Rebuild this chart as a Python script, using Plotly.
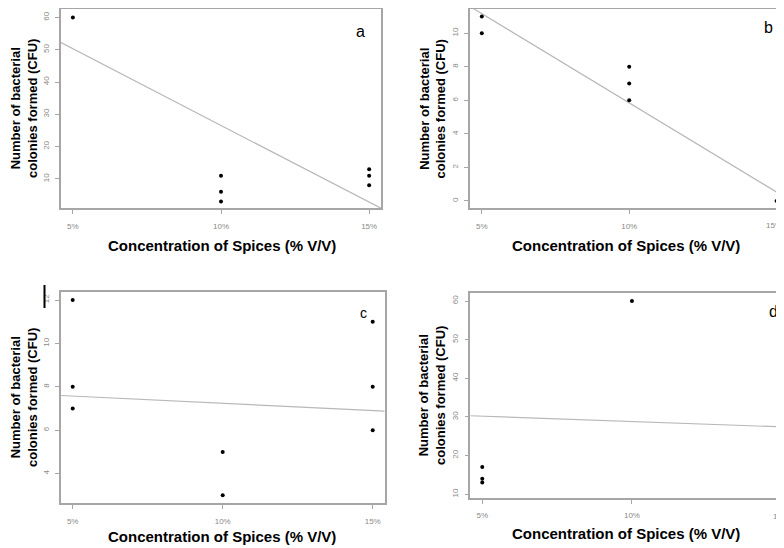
import plotly.graph_objects as go

# The page body has an 8px margin, so the figure is drawn 8px smaller and
# every reference pixel position is shifted by OFF.
OFF = 8
W, H = 784 - OFF, 548 - OFF

conc_values = [5, 10, 15]
conc_labels = ["5%", "10%", "15%"]

a_x = [5, 10, 10, 10, 15, 15, 15]
a_y = [60, 11, 6, 3, 13, 11, 8]
b_x = [5, 5, 10, 10, 10, 15]
b_y = [11, 10, 8, 7, 6, 0]
c_x = [5, 5, 5, 10, 10, 15, 15, 15]
c_y = [12, 8, 7, 5, 3, 11, 8, 6]
d_x = [5, 5, 5, 10, 15, 15, 15]
d_y = [17, 14, 13, 60, 15, 12, 9]

fit_x = [4.6, 15.4]
a_fit = [52.2, 0.9]
b_fit = [11.6, 0.1]
c_fit = [7.6, 6.88]
d_fit = [30.3, 27.3]

a_yticks = [10, 20, 30, 40, 50, 60]
b_yticks = [0, 2, 4, 6, 8, 10]
c_yticks = [4, 6, 8, 10, 12]
d_yticks = [10, 20, 30, 40, 50, 60]

panel_letters = ["a", "b", "c", "d"]
x_title = "Concentration of Spices (% V/V)"
y_title = "Number of bacterial<br>colonies formed (CFU)"


def px(x):
    return (x - OFF) / W


def py(y):
    return 1 - (y - OFF) / H


# pixel boxes (reference coords): (left, right, top, bottom)
panels = [
    dict(x=a_x, y=a_y, fit=a_fit, yt=a_yticks, box=(61, 381, 9, 208.3), xr=[4.6, 15.4], yr=[0.9, 62.6], mirror=True),
    dict(x=b_x, y=b_y, fit=b_fit, yt=b_yticks, box=(470, 784, 9, 208.3), xr=[4.6, 15.25], yr=[-0.44, 11.45], mirror=False),
    dict(x=c_x, y=c_y, fit=c_fit, yt=c_yticks, box=(60.7, 384.7, 292, 503.3), xr=[4.6, 15.4], yr=[2.63, 12.37], mirror=True),
    dict(x=d_x, y=d_y, fit=d_fit, yt=d_yticks, box=(470.3, 784, 292.7, 498), xr=[4.6, 15.08], yr=[9.0, 62.15], mirror=False),
]

fig = go.Figure()
BOX = "#a6a6a6"
TICKC = "#8a8a8a"
TICKF = dict(family="Liberation Sans, Arial", size=8, color=TICKC)

layout = dict(
    width=W, height=H, margin=dict(l=0, r=0, t=0, b=0),
    paper_bgcolor="white", plot_bgcolor="white", showlegend=False,
    font=dict(family="Liberation Sans, Arial"),
)
annotations = []
for i, p in enumerate(panels):
    n = "" if i == 0 else str(i + 1)
    xa, ya = "x" + n, "y" + n
    l, r, t, b = p["box"]
    fig.add_trace(go.Scatter(x=fit_x, y=p["fit"], mode="lines",
                             line=dict(color="#b8b8b8", width=1.2),
                             xaxis=xa, yaxis=ya, hoverinfo="skip"))
    fig.add_trace(go.Scatter(x=p["x"], y=p["y"], mode="markers",
                             marker=dict(color="black", size=4),
                             xaxis=xa, yaxis=ya, cliponaxis=False))
    layout["xaxis" + n] = dict(
        domain=[px(l), min(px(r), 1)], range=p["xr"], anchor=ya,
        tickvals=conc_values, ticktext=conc_labels, ticks="outside",
        ticklen=4, tickcolor=BOX, tickfont=TICKF, ticklabelstandoff=5,
        showgrid=False, zeroline=False, showline=True, linecolor=BOX,
        linewidth=1.5, mirror=True,
    )
    layout["yaxis" + n] = dict(
        domain=[py(b), py(t)], range=p["yr"], anchor=xa,
        tickvals=p["yt"], ticks="outside", ticklen=4, tickcolor=BOX,
        tickfont=TICKF, tickangle=-90, ticklabelstandoff=3,
        showgrid=False, zeroline=False, showline=True, linecolor=BOX,
        linewidth=1.5, mirror=p["mirror"],
    )

# right-most tick labels of panels b and d sit on the picture edge
annotations.append(dict(x=1, y=py(225), xref="paper", yref="paper", text=conc_labels[2],
                        showarrow=False, xanchor="right", yanchor="middle", font=TICKF))
annotations.append(dict(x=1, y=py(516), xref="paper", yref="paper", text=conc_labels[2][:2],
                        showarrow=False, xanchor="right", yanchor="middle", font=TICKF))

title_pos_y = [(23.5, 108.5), (432, 108.5), (23.5, 397.5), (432, 395)]
title_pos_x = [(222, 245), (626, 245), (222, 536), (626, 533)]
letter_pos = [(360, 31, 16), (768, 28, 16), (363, 313, 14), (773, 311, 16)]
for i in range(4):
    tx, ty = title_pos_y[i]
    annotations.append(dict(x=px(tx), y=py(ty), xref="paper", yref="paper",
                            text="<b>" + y_title + "</b>", showarrow=False, textangle=-90,
                            font=dict(size=13, color="black", family="Liberation Sans, Arial"),
                            xanchor="center", yanchor="middle"))
    xx, xy = title_pos_x[i]
    annotations.append(dict(x=px(xx), y=py(xy), xref="paper", yref="paper",
                            text="<b>" + x_title + "</b>", showarrow=False,
                            font=dict(size=15, color="black", family="Liberation Sans, Arial"),
                            xanchor="center", yanchor="middle"))
    lx, ly, ls = letter_pos[i]
    annotations.append(dict(x=px(lx), y=py(ly), xref="paper", yref="paper",
                            text=panel_letters[i], showarrow=False,
                            font=dict(size=ls, color="black", family="Liberation Sans, Arial"),
                            xanchor="center", yanchor="middle"))

layout["annotations"] = annotations
layout["shapes"] = [dict(type="line", xref="paper", yref="paper",
                         x0=px(44.5), x1=px(44.5), y0=py(285), y1=py(308),
                         line=dict(color="black", width=2))]
fig.update_layout(**layout)
fig.write_html("out.html")
